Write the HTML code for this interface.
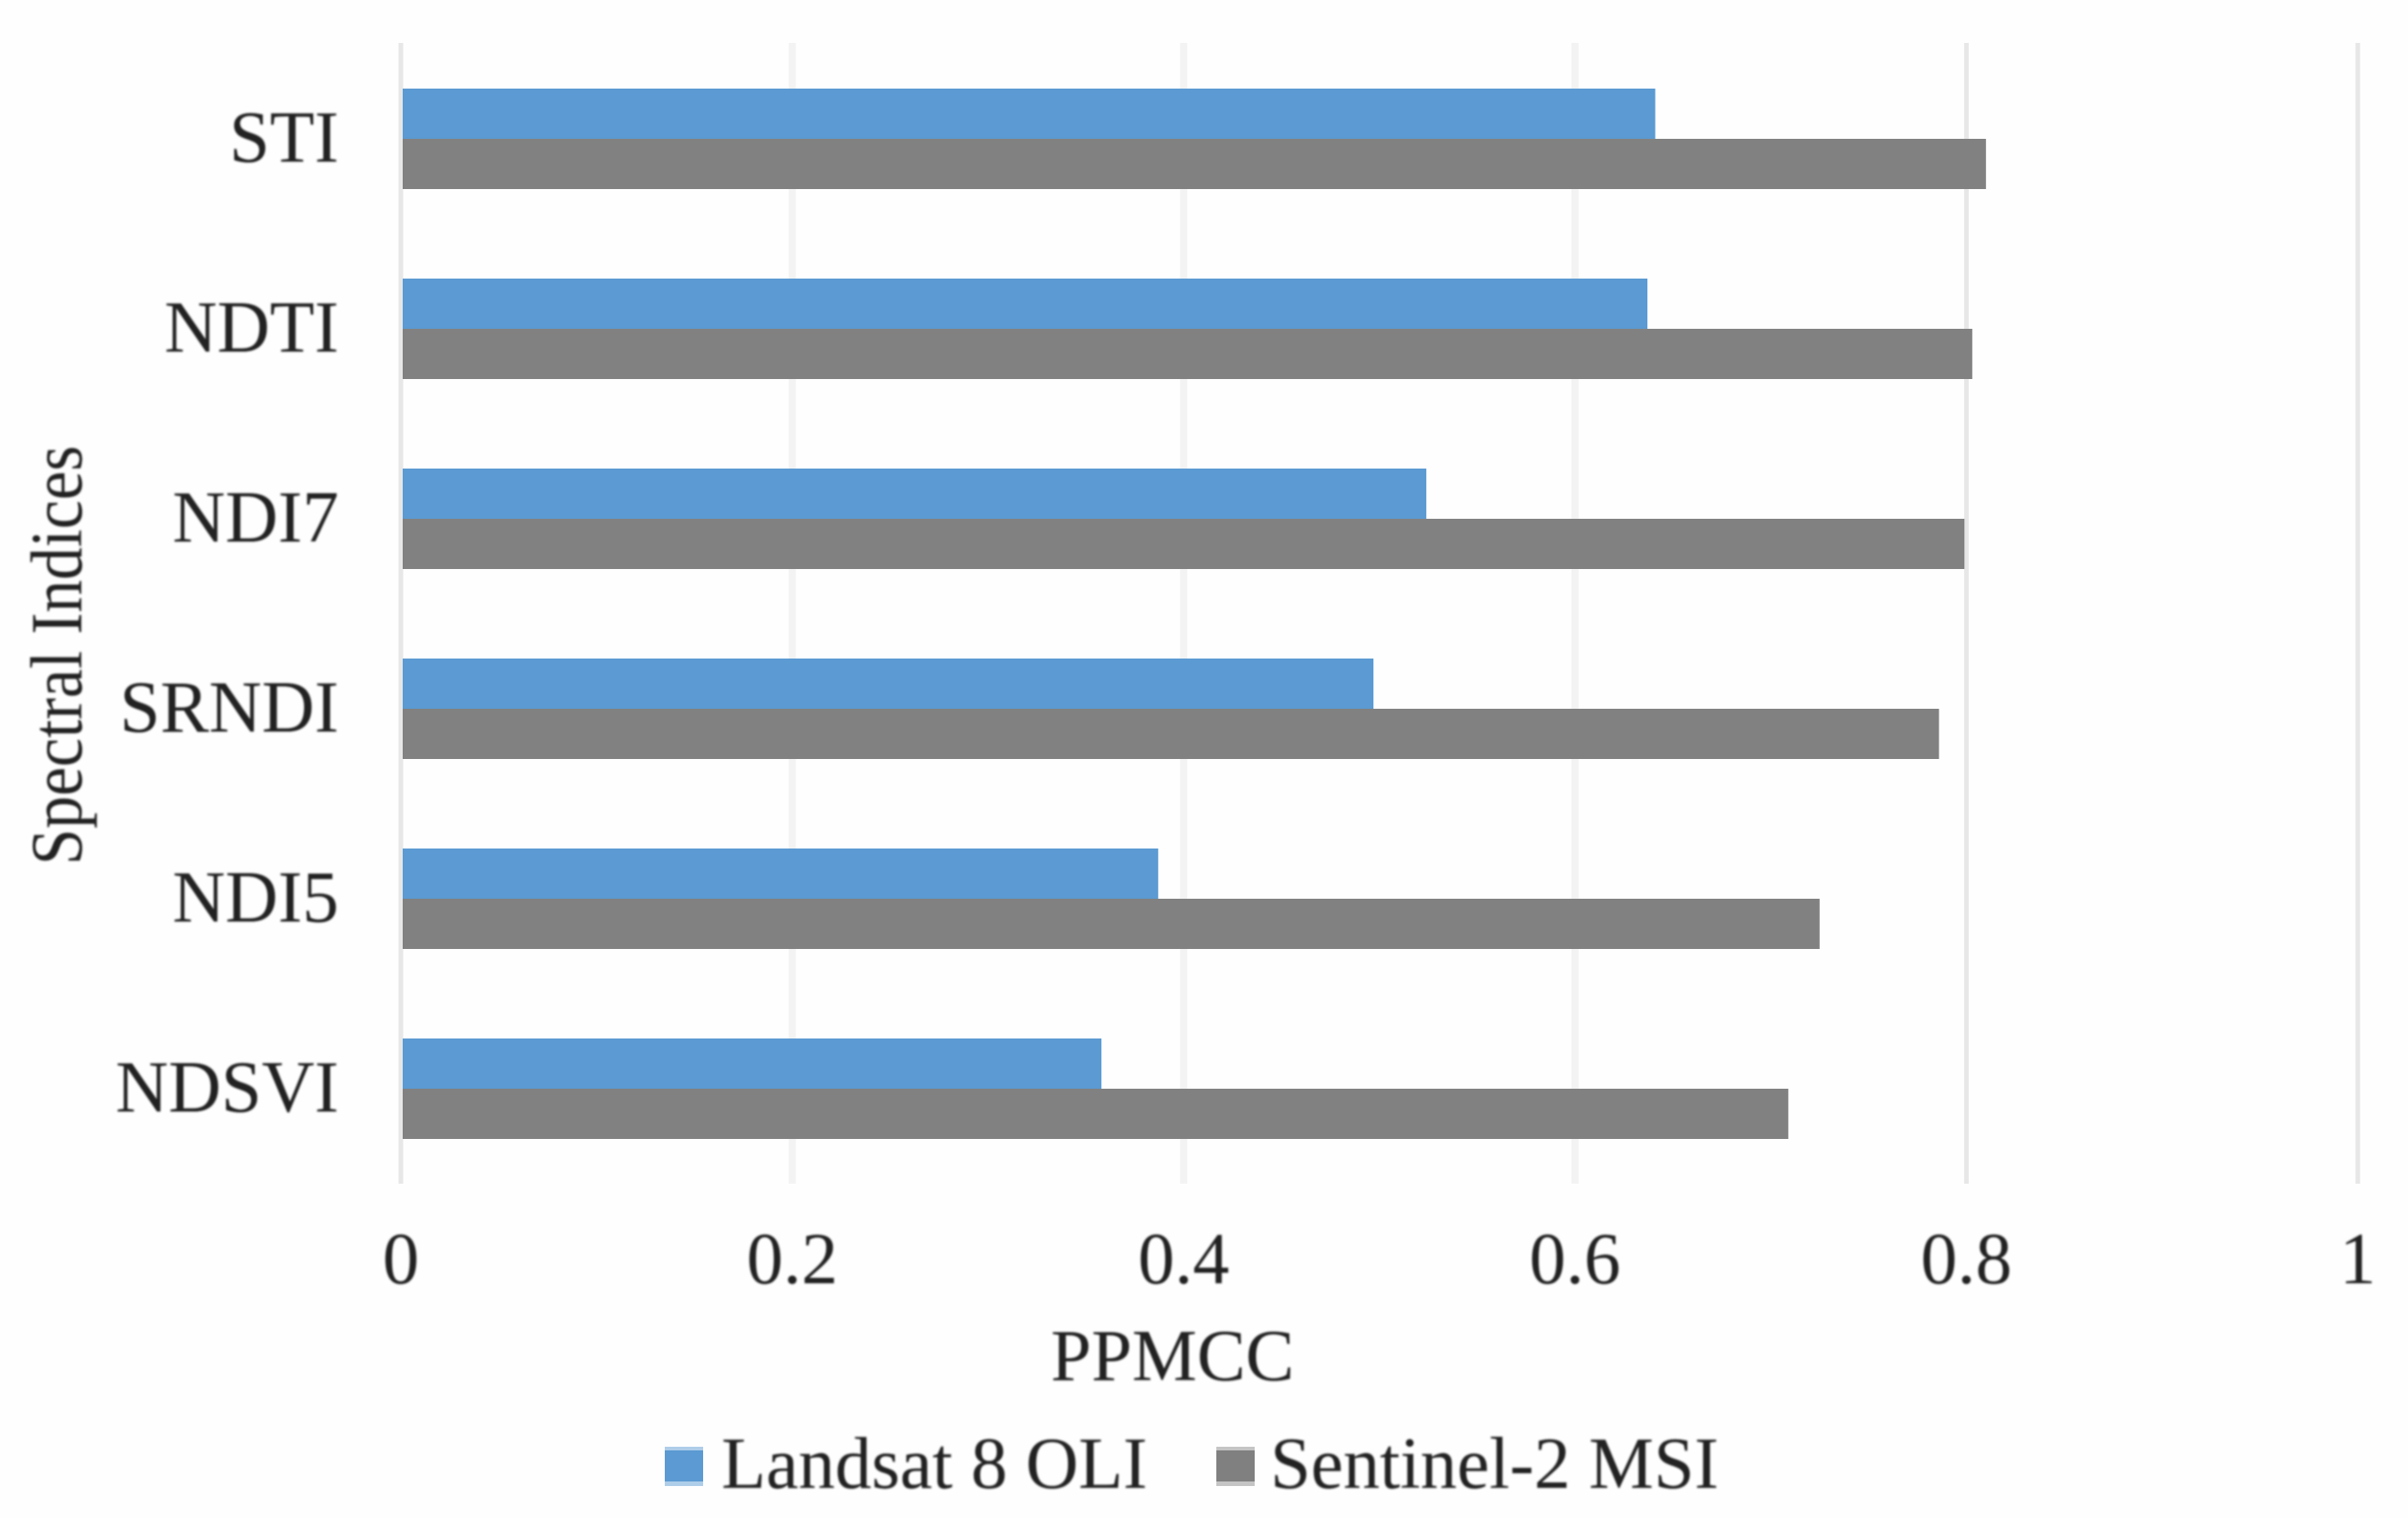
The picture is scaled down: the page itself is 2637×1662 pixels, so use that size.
<!DOCTYPE html>
<html lang="en">
<head>
<meta charset="utf-8">
<title>PPMCC of Spectral Indices</title>
<style>
html,body{margin:0;padding:0;background:#fefefe;}
svg{display:block;}
text{font-family:"Liberation Serif",serif;font-size:80px;fill:#222;filter:url(#soft);}
</style>
</head>
<body>
<svg id="chart" xmlns="http://www.w3.org/2000/svg" width="2637" height="1662" viewBox="0 0 2637 1662">
  <defs><filter id="soft" x="-5%" y="-20%" width="110%" height="140%"><feGaussianBlur stdDeviation="1.1"/></filter></defs>
  <rect x="0" y="0" width="2637" height="1662" fill="#fefefe"/>
  <g id="grid"></g>
  <g id="bars"></g>
  <g id="cats"></g>
  <g id="ticks"></g>
  <text x="1284" y="1511" text-anchor="middle">PPMCC</text>
  <text text-anchor="middle" transform="translate(89 717.5) rotate(-90) scale(0.895 1)">Spectral Indices</text>
  <g>
    <g>
      <rect x="728" y="1584" width="42" height="43" fill="#aecde9"/>
      <rect x="728" y="1588" width="42" height="34" fill="#5b9ad2"/>
      <text x="790" y="1629">Landsat 8 OLI</text>
    </g>
    <g>
      <rect x="1332" y="1584" width="42" height="43" fill="#c4c4c4"/>
      <rect x="1332" y="1588" width="42" height="34" fill="#808080"/>
      <text x="1391" y="1629">Sentinel-2 MSI</text>
    </g>
  </g>
</svg>
<script>
const categories = ["STI", "NDTI", "NDI7", "SRNDI", "NDI5", "NDSVI"];
const landsatValues = [0.641, 0.637, 0.524, 0.497, 0.387, 0.358];
const sentinelValues = [0.81, 0.803, 0.799, 0.786, 0.725, 0.709];
const tickValues = [0, 0.2, 0.4, 0.6, 0.8, 1];
const tickLabels = ["0", "0.2", "0.4", "0.6", "0.8", "1"];

const NS = "http://www.w3.org/2000/svg";
function xScale(v) { return 439 + v * 2143; }
function bandTop(i) { return 97 + i * (1040 / (categories.length - 1)); }
const barHeight = 55;
const barStart = 441;

function mk(parent, tag, attrs) {
  const el = document.createElementNS(NS, tag);
  for (const k in attrs) el.setAttribute(k, attrs[k]);
  parent.appendChild(el);
  return el;
}

const grid = document.getElementById("grid");
const ticks = document.getElementById("ticks");
tickValues.forEach(function (v, i) {
  const soft = i >= 1 && i <= 3;
  const w = soft ? 8 : 5;
  const line = mk(grid, "rect", { x: xScale(v) - w / 2, y: 47, width: w, height: 1249, fill: soft ? "#f3f3f3" : "#e7e7e7" });
  
  
  const label = mk(ticks, "text", { x: xScale(v), y: 1405, "text-anchor": "middle" });
  label.textContent = tickLabels[i];
  
  
});

const bars = document.getElementById("bars");
const cats = document.getElementById("cats");
categories.forEach(function (c, i) {
  const top = bandTop(i);
  const a = mk(bars, "rect", { x: barStart, y: top, width: xScale(landsatValues[i]) - barStart, height: barHeight + 1, fill: "#5b9ad2" });
  
  
  const b = mk(bars, "rect", { x: barStart, y: top + barHeight, width: xScale(sentinelValues[i]) - barStart, height: barHeight, fill: "#818181" });
  
  
  const t = mk(cats, "text", { x: 371, y: top + barHeight + 25, "text-anchor": "end" });
  t.textContent = c;
  
  
});
</script>
</body>
</html>
